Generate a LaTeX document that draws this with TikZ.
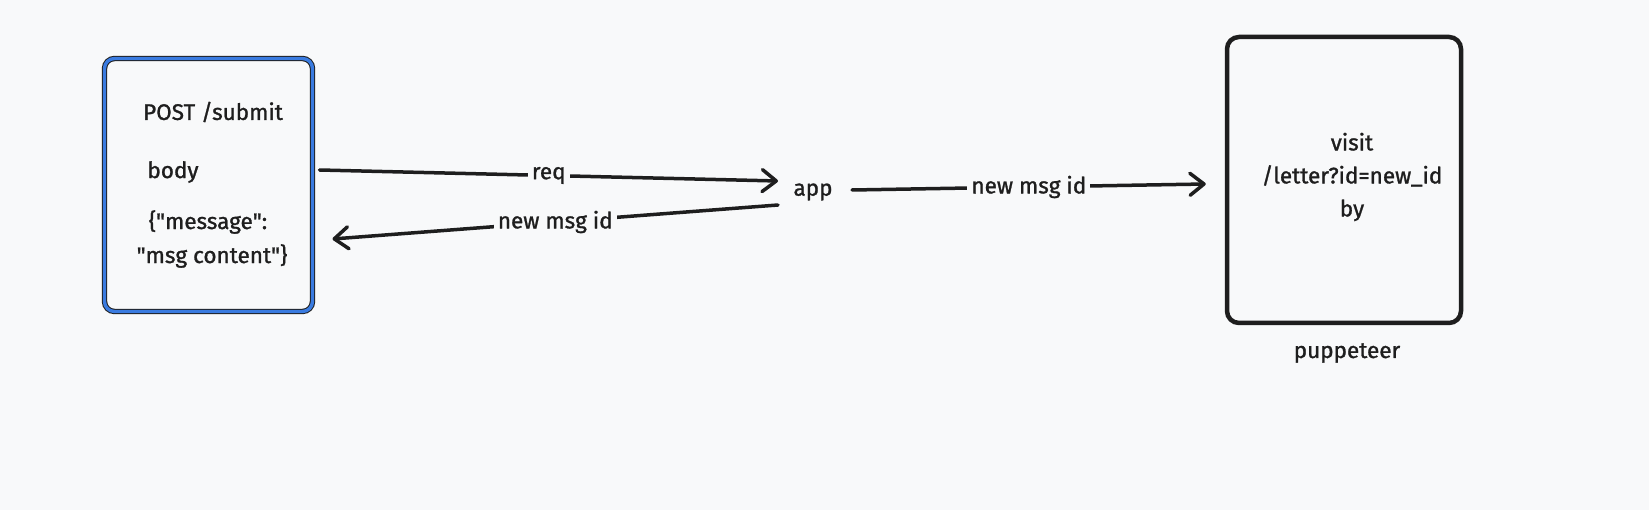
\documentclass[tikz,border=0pt]{standalone}
\usepackage{fontspec}
\setmainfont{Fira Sans}[FakeBold=1.2]
\usetikzlibrary{arrows.meta}
\definecolor{bg}{HTML}{F8F9FA}
\definecolor{ink}{HTML}{1E1E1E}
\definecolor{selblue}{HTML}{3A7BE0}
\tikzset{
  x=1pt, y=-1pt,
  txt/.style={font=\fontsize{22.5}{33}\selectfont, text=ink, inner sep=0pt, align=center},
  lbl/.style={txt, fill=bg, inner sep=4pt},
  conn/.style={draw=ink, line width=3.5pt, line cap=round,
    -{Straight Barb[length=14pt,width=22pt,line cap=round,line join=round]}},
}
\begin{document}
\begin{tikzpicture}
\fill[bg] (0,0) rectangle (1649,510);
\useasboundingbox (0,0) rectangle (1649,510);

% left box (selected look)
\node[draw=ink, line width=5.4pt, rounded corners=10pt, minimum width=208pt, minimum height=253pt, inner sep=0pt, outer sep=0pt] (lbox) at (208.5,185) {};
\draw[selblue, line width=3.4pt, rounded corners=10pt] (lbox.south west) rectangle (lbox.north east);
\node[txt] (post) at (213,112) {POST /submit};
\node[txt] (body) at (173,172) {body};
\node[txt] (msg1) at (208,222) {\{\textquotedbl message\textquotedbl:};
\node[txt] (msg2) at (212,256) {\textquotedbl msg content\textquotedbl\}};

% right box
\node[draw=ink, line width=4.5pt, rounded corners=12pt, minimum width=234pt, minimum height=286pt, inner sep=0pt] (rbox) at (1344,180) {};
\node[txt] (visit) at (1352,177) {visit\\/letter?id=new\_id\\by};
\node[txt] (pup) at (1347,353) {puppeteer};

% app
\node[txt] (app) at (813,192) {app};

% connectors
\draw[conn] ([xshift=7pt,yshift=15pt]lbox.east) -- node[lbl, pos=0.5] (lreq) {req} ([xshift=-35pt,yshift=11pt]app.center);
\draw[conn] ([xshift=-35pt,yshift=-13pt]app.center) -- node[lbl, pos=0.5] (lback) {new msg id} ([xshift=20pt,yshift=-54pt]lbox.east);
\draw[conn] ([xshift=39pt,yshift=2pt]app.center) -- node[lbl, pos=0.5] (lfwd) {new msg id} ([xshift=-19pt,yshift=-4pt]rbox.west);
\end{tikzpicture}
\end{document}
